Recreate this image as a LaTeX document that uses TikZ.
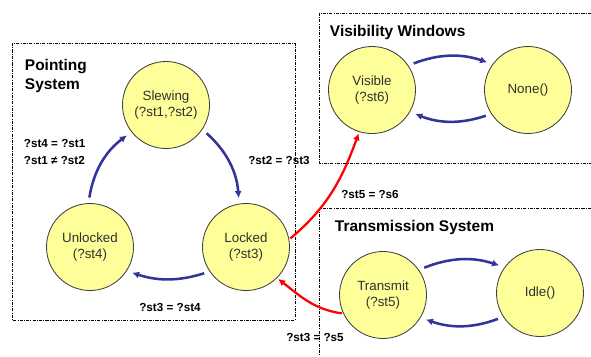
\documentclass[tikz,border=0pt]{standalone}
\usepackage{fontspec}
\setmainfont{Liberation Sans}
\usepackage{tikz}
\usetikzlibrary{arrows.meta, positioning, calc}
\definecolor{statefill}{HTML}{FFFF99}
\definecolor{stateline}{HTML}{404040}
\definecolor{statetext}{HTML}{303030}
\definecolor{transblue}{HTML}{333399}
\definecolor{linkred}{HTML}{FF0000}

\tikzset{
  state/.style={circle, draw=stateline, line width=0.6pt, fill=statefill,
    minimum size=87*0.025cm, inner sep=0pt, align=center, text=statetext,
    font=\fontsize{9.5}{12}\selectfont},
  frame/.style={line width=0.6pt, dash pattern=on 2.2pt off 0.9pt on 0.6pt off 0.9pt},
  title/.style={font=\fontsize{11}{13.5}\selectfont\bfseries, anchor=west, align=left},
  guard/.style={font=\fontsize{8.3}{12}\selectfont\bfseries, align=left},
  move/.style={transblue, line width=1.8pt, -{Latex[length=5pt,width=5pt]},
    shorten <=4pt, shorten >=4pt},
  link/.style={linkred, line width=1.6pt, -{Latex[length=5pt,width=5pt]},
    shorten <=1pt, shorten >=1pt}
}

\begin{document}
\begin{tikzpicture}[x=0.025cm, y=-0.025cm]
      \useasboundingbox (0,0) rectangle (591,356);
      % frames of the three subsystems
      \draw[frame] (12,43) rectangle (295,320);
      \draw[frame] (591,13) -- (319,13) -- (319,163) -- (591,163);
      \draw[frame] (591,208) -- (319,208) -- (319,356);

      \node[title] (ptitle) at (20,76) {Pointing\\System};
      \node[title] (vtitle) at (325,32) {Visibility Windows};
      \node[title] (ttitle) at (330,227) {Transmission System};

      % states
      \node[state] (slew) at (166,105) {Slewing\\(?st1,?st2)};
      \node[state] (unlock) at (90,247) {Unlocked\\(?st4)};
      \node[state] (lock) at (246,247) {Locked\\(?st3)};
      \node[state] (vis) at (372,90) {Visible\\(?st6)};
      \node[state] (none) at (528,90) {None()};
      \node[state] (trans) at (383,295) {Transmit\\(?st5)};
      \node[state] (idle) at (540,293) {Idle()};

      % transitions inside each subsystem
      \draw[move] (slew.-34) to[bend left=22] (lock.99);
      \draw[move] (lock.214) to[bend left=18] (unlock.-33);
      \draw[move] (unlock.92) to[bend left=22] (slew.218);
      \draw[move] (vis.34) to[bend left=20] (none.144);
      \draw[move] (none.213) to[bend left=20] (vis.-30);
      \draw[move] (trans.35) to[bend left=20] (idle.144);
      \draw[move] (idle.213) to[bend left=20] (trans.-31);

      % links between subsystems
      \draw[link] (lock.10) to[out=40, in=-110] (vis.253);
      \draw[link] (trans.205) to[out=172, in=-38] (lock.-45);

      % guards
      \node[guard, anchor=west] (g41) at (19,152) {?st4 = ?st1\\?st1 ≠ ?st2};
      \node[guard] (g23) at (279,160) {?st2 = ?st3};
      \node[guard] (g34) at (170,307) {?st3 = ?st4};
      \node[guard] (g56) at (370,194) {?st5 = ?s6};
      \node[guard] (g35) at (315,337) {?st3 = ?s5};
\end{tikzpicture}
\end{document}
